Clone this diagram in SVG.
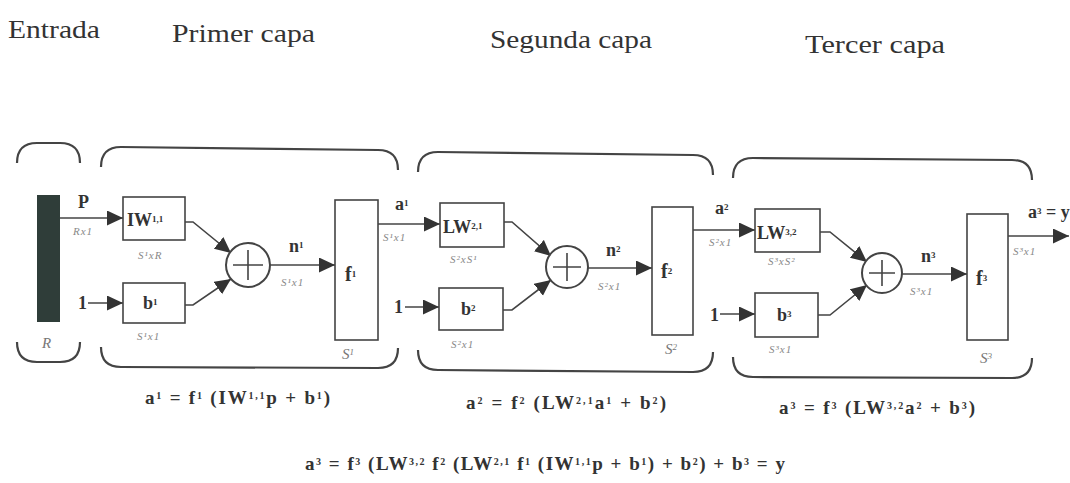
<svg xmlns="http://www.w3.org/2000/svg" width="1070" height="483" viewBox="0 0 1070 483">
<style>
.title{font-family:"Liberation Serif",serif;font-size:26px;fill:#333}
.m{font-family:"Liberation Serif",serif;font-weight:bold;fill:#333}
.lb{font-size:18px}
.fl{font-size:20px}
.sup{font-size:9px;baseline-shift:4px}
.esup{font-size:10px;baseline-shift:5px}
.dim{font-family:"Liberation Serif",serif;font-style:italic;font-size:11px;fill:#888;letter-spacing:1px}
.sdim{font-family:"Liberation Serif",serif;font-style:italic;font-size:15px;fill:#777}
.box{fill:#fff;stroke:#444;stroke-width:1.6}
.br{fill:none;stroke:#444;stroke-width:2.2}
.ln{fill:none;stroke:#444;stroke-width:1.6}
.eq{font-family:"Liberation Serif",serif;font-weight:bold;font-size:19px;fill:#333}
</style>
<defs>
<marker id="ah" markerUnits="userSpaceOnUse" markerWidth="18" markerHeight="16" refX="16" refY="7.5" orient="auto">
<path d="M0,0 L16,7.5 L0,15 z" fill="#333"/>
</marker>
</defs>
<rect width="1070" height="483" fill="#fff"/>

<g id="titles">
<text class="title" x="8" y="38" textLength="92" lengthAdjust="spacingAndGlyphs">Entrada</text>
<text class="title" x="172" y="42" textLength="143" lengthAdjust="spacingAndGlyphs">Primer capa</text>
<text class="title" x="490" y="48" textLength="162" lengthAdjust="spacingAndGlyphs">Segunda capa</text>
<text class="title" x="805" y="53" textLength="140" lengthAdjust="spacingAndGlyphs">Tercer capa</text>
</g>

<g id="brackets">
<path class="br" d="M17,163 Q17,143 37,143 L60,143 Q80,143 80,163"/>
<path class="br" d="M17,342 Q17,362 37,362 L60,362 Q80,362 80,342"/>
<path class="br" d="M101,167 Q101,147 121,147 L378,150 Q398,150 398,170"/>
<path class="br" d="M101,347 Q101,367 121,367 L378,368 Q398,368 398,348"/>
<path class="br" d="M418,172 Q418,152 438,152 L693,155 Q713,155 713,175"/>
<path class="br" d="M418,350 Q418,370 438,370 L693,372 Q713,372 713,352"/>
<path class="br" d="M733,178 Q733,158 753,158 L1012,160 Q1032,160 1032,180"/>
<path class="br" d="M733,357 Q733,377 753,377 L1012,378 Q1032,378 1032,358"/>
</g>

<g id="connectors">
<path class="ln" d="M60,218 L123,218" marker-end="url(#ah)"/>
<path class="ln" d="M88,303 L123,303" marker-end="url(#ah)"/>
<path class="ln" d="M185,222 L193,222 L231,253" marker-end="url(#ah)"/>
<path class="ln" d="M185,305 L193,305 L231,279" marker-end="url(#ah)"/>
<path class="ln" d="M270,265 L335,265" marker-end="url(#ah)"/>
<path class="ln" d="M378,224 L440,224" marker-end="url(#ah)"/>
<path class="ln" d="M405,307 L439,307" marker-end="url(#ah)"/>
<path class="ln" d="M504,222 L512,222 L551,256" marker-end="url(#ah)"/>
<path class="ln" d="M503,310 L512,310 L551,280" marker-end="url(#ah)"/>
<path class="ln" d="M588,268 L652,268" marker-end="url(#ah)"/>
<path class="ln" d="M693,230 L755,230" marker-end="url(#ah)"/>
<path class="ln" d="M720,314 L755,314" marker-end="url(#ah)"/>
<path class="ln" d="M820,232 L830,232 L867,262" marker-end="url(#ah)"/>
<path class="ln" d="M818,315 L830,315 L867,285" marker-end="url(#ah)"/>
<path class="ln" d="M902,274 L967,274" marker-end="url(#ah)"/>
<path class="ln" d="M1008,236 L1069,236" marker-end="url(#ah)"/>
</g>

<g id="input">
<rect x="37" y="195" width="23" height="127" fill="#2f3d39"/>
<text class="sdim" x="42" y="348">R</text>
<text class="m lb" x="78" y="208">P</text>
<text class="dim" x="73" y="235">Rx1</text>
</g>

<g id="IW11">
<rect class="box" x="123" y="197" width="62" height="43"/>
<text class="m lb" x="127" y="226">IW<tspan class="sup">1,1</tspan></text>
<text class="dim" x="138" y="259">S¹xR</text>
</g>
<g id="b1">
<text class="m lb" x="78" y="309">1</text>
<rect class="box" x="123" y="283" width="62" height="40"/>
<text class="m lb" x="143" y="309">b<tspan class="sup">1</tspan></text>
<text class="dim" x="137" y="340">S¹x1</text>
</g>
<g id="sum1">
<circle cx="248" cy="265" r="22" fill="#fff" stroke="#444" stroke-width="2"/>
<path class="ln" d="M248,250 L248,280 M233,265 L263,265"/>
<text class="m lb" x="289" y="252">n<tspan class="sup">1</tspan></text>
<text class="dim" x="281" y="286">S¹x1</text>
</g>
<g id="f1">
<rect class="box" x="335" y="200" width="43" height="140"/>
<text class="m fl" x="345" y="281">f<tspan class="sup">1</tspan></text>
<text class="sdim" x="342" y="359">S<tspan class="sup">1</tspan></text>
<text class="m lb" x="395" y="210">a<tspan class="sup">1</tspan></text>
<text class="dim" x="383" y="241">S¹x1</text>
</g>

<g id="LW21">
<rect class="box" x="440" y="203" width="64" height="44"/>
<text class="m lb" x="443" y="233">LW<tspan class="sup">2,1</tspan></text>
<text class="dim" x="450" y="263">S²xS¹</text>
</g>
<g id="b2">
<text class="m lb" x="394" y="313">1</text>
<rect class="box" x="439" y="288" width="64" height="42"/>
<text class="m lb" x="461" y="315">b<tspan class="sup">2</tspan></text>
<text class="dim" x="451" y="348">S²x1</text>
</g>
<g id="sum2">
<circle cx="567" cy="267" r="21" fill="#fff" stroke="#444" stroke-width="2"/>
<path class="ln" d="M567,253 L567,281 M553,267 L581,267"/>
<text class="m lb" x="606" y="256">n<tspan class="sup">2</tspan></text>
<text class="dim" x="598" y="290">S²x1</text>
</g>
<g id="f2">
<rect class="box" x="652" y="207" width="41" height="128"/>
<text class="m fl" x="661" y="278">f<tspan class="sup">2</tspan></text>
<text class="sdim" x="665" y="354">S<tspan class="sup">2</tspan></text>
<text class="m lb" x="715" y="214">a<tspan class="sup">2</tspan></text>
<text class="dim" x="709" y="246">S²x1</text>
</g>

<g id="LW32">
<rect class="box" x="755" y="209" width="65" height="43"/>
<text class="m lb" x="757" y="239">LW<tspan class="sup">3,2</tspan></text>
<text class="dim" x="768" y="265">S³xS²</text>
</g>
<g id="b3">
<text class="m lb" x="710" y="321">1</text>
<rect class="box" x="755" y="293" width="63" height="44"/>
<text class="m lb" x="777" y="321">b<tspan class="sup">3</tspan></text>
<text class="dim" x="769" y="353">S³x1</text>
</g>
<g id="sum3">
<circle cx="882" cy="273" r="20" fill="#fff" stroke="#444" stroke-width="2"/>
<path class="ln" d="M882,260 L882,286 M869,273 L895,273"/>
<text class="m lb" x="921" y="262">n<tspan class="sup">3</tspan></text>
<text class="dim" x="910" y="295">S³x1</text>
</g>
<g id="f3">
<rect class="box" x="967" y="214" width="41" height="126"/>
<text class="m fl" x="976" y="285">f<tspan class="sup">3</tspan></text>
<text class="sdim" x="980" y="363">S<tspan class="sup">3</tspan></text>
<text class="m lb" x="1028" y="218">a<tspan class="sup">3</tspan> = y</text>
<text class="dim" x="1013" y="255">S³x1</text>
</g>

<g id="equations">
<text class="eq" x="145" y="404" textLength="185" lengthAdjust="spacing">a<tspan class="esup">1</tspan> = f<tspan class="esup">1</tspan> (IW<tspan class="esup">1,1</tspan>p + b<tspan class="esup">1</tspan>)</text>
<text class="eq" x="466" y="409" textLength="200" lengthAdjust="spacing">a<tspan class="esup">2</tspan> = f<tspan class="esup">2</tspan> (LW<tspan class="esup">2,1</tspan>a<tspan class="esup">1</tspan> + b<tspan class="esup">2</tspan>)</text>
<text class="eq" x="779" y="414" textLength="196" lengthAdjust="spacing">a<tspan class="esup">3</tspan> = f<tspan class="esup">3</tspan> (LW<tspan class="esup">3,2</tspan>a<tspan class="esup">2</tspan> + b<tspan class="esup">3</tspan>)</text>
<text class="eq" x="305" y="470" textLength="480" lengthAdjust="spacing">a<tspan class="esup">3</tspan> = f<tspan class="esup">3</tspan> (LW<tspan class="esup">3,2</tspan> f<tspan class="esup">2</tspan> (LW<tspan class="esup">2,1</tspan> f<tspan class="esup">1</tspan> (IW<tspan class="esup">1,1</tspan>p + b<tspan class="esup">1</tspan>) + b<tspan class="esup">2</tspan>) + b<tspan class="esup">3</tspan> = y</text>
</g>
</svg>
